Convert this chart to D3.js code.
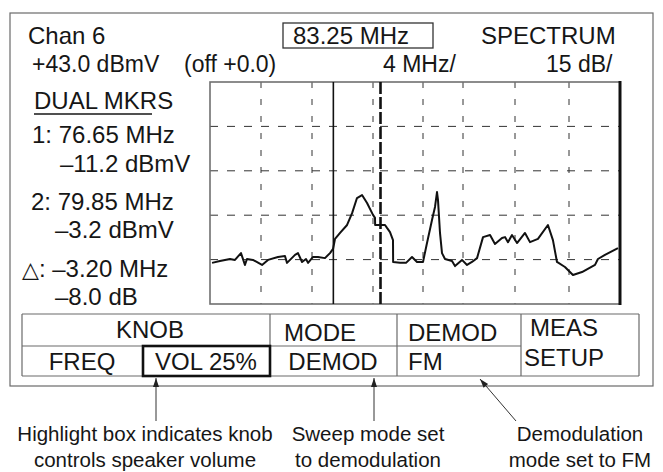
<!DOCTYPE html>
<html><head><meta charset="utf-8">
<script src="https://cdn.jsdelivr.net/npm/d3@7"></script>
<style>html,body{margin:0;padding:0;background:#fff}</style>
</head><body>
<svg id="c" width="663" height="472"></svg>
<script>
// Spectrum analyser screen: channel 6, 4 MHz/div, 15 dB/div, +43.0 dBmV reference
const freqDivisions = [67.25, 71.25, 75.25, 79.25, 83.25, 87.25, 91.25, 95.25, 99.25];
const levelDivisions = [43, 28, 13, -2, -17, -32];

// Swept trace (MHz, dBmV)
const traceFreq = [67.41, 68.03, 68.82, 69.21, 69.68, 69.99, 70.15, 70.62, 71.33, 71.80,
  72.58, 73.13, 73.29, 73.92, 74.15, 74.47, 74.78, 74.94, 75.32, 75.64,
  76.10, 76.43, 76.63, 76.76, 77.09, 77.55, 77.88, 78.20, 78.53, 78.86,
  79.25, 79.41, 79.42, 80.21, 80.37, 80.61, 80.85, 80.86, 81.41, 81.89,
  82.37, 82.77, 83.25, 83.65, 84.15, 84.45, 84.65, 84.75, 84.95, 85.15,
  85.45, 86.15, 86.45, 87.15, 87.56, 87.94, 88.33, 88.79, 89.33, 89.71,
  90.25, 90.48, 90.71, 91.02, 91.40, 91.99, 92.36, 92.95, 93.69, 94.06,
  94.36, 94.95, 95.56, 96.27, 97.29, 97.52, 98.07, 99.09];
const traceLevel = [-18.1, -17.5, -16.8, -17.1, -14.8, -18.8, -16.8, -17.1, -18.8, -17.1,
  -16.1, -15.8, -18.1, -15.4, -14.8, -17.8, -16.8, -18.1, -16.1, -16.1,
  -16.5, -14.8, -13.4, -10.0, -8.0, -5.3, -1.3, 3.8, 4.8, 2.1,
  -1.9, -2.9, -5.3, -5.3, -6.3, -7.7, -10.4, -17.8, -18.1, -18.1,
  -16.1, -17.8, -17.8, -11.4, -3.6, 0.8, 5.8, 3.1, -8.0, -14.8,
  -16.8, -17.5, -19.2, -17.1, -18.8, -17.8, -16.5, -9.4, -8.7, -11.7,
  -9.7, -9.4, -11.1, -8.7, -11.4, -8.0, -11.1, -10.0, -5.3, -10.4,
  -17.8, -19.5, -22.2, -21.2, -18.8, -16.8, -15.4, -13.1];

// Dual markers
const markerFreq = [76.65, 79.85];
const markerLevel = [-11.2, -3.2];

// Soft-key panel labels
const knobLabels = ["FREQ", "VOL 25%"];
const callouts = [
  ["Highlight box indicates knob", "controls speaker volume"],
  ["Sweep mode set", "to demodulation"],
  ["Demodulation", "mode set to FM"]
];

const svg = d3.select("#c");
const FONT = "'Liberation Sans', Arial, Helvetica, sans-serif";
const INK = "#161616";

// screen division lines are not perfectly even on this display
const divX = [210, 261, 312, 373, 423, 463, 515, 569, 620];
const x = d3.scaleLinear().domain(freqDivisions).range(divX);
const y = d3.scaleLinear().domain([levelDivisions[levelDivisions.length - 1], levelDivisions[0]]).range([304, 82]);

const dash = v => "–" + Math.abs(v).toFixed(1);
const fmt1 = d3.format(".1f"), fmt2 = d3.format(".2f");

// outer bezel
svg.append("rect").attr("x", 10).attr("y", 13).attr("width", 643).attr("height", 373)
  .attr("fill", "none").attr("stroke", "#6a6a6a").attr("stroke-width", 1.2);

function txt(s, tx, ty, opts = {}) {
  return svg.append("text").attr("x", tx).attr("y", ty)
    .attr("font-family", opts.family || FONT).attr("font-size", opts.size || 24)
    .attr("fill", INK).attr("text-anchor", opts.anchor || "start").text(s);
}

// header
txt("Chan 6", 28, 44);
svg.append("rect").attr("x", 283).attr("y", 23).attr("width", 150).attr("height", 25)
  .attr("fill", "none").attr("stroke", "#333").attr("stroke-width", 1.3);
txt("83.25 MHz", 351, 44, {anchor: "middle"});
txt("SPECTRUM", 481, 44);
txt("+" + fmt1(levelDivisions[0]) + " dBmV", 32, 72, {size: 23});
txt("(off +0.0)", 184, 72, {size: 23});
txt("4 MHz/", 383, 72, {size: 23});
txt("15 dB/", 546, 72, {size: 23});

// marker readout
txt("DUAL MKRS", 34, 109);
svg.append("line").attr("x1", 34).attr("x2", 152).attr("y1", 114).attr("y2", 114)
  .attr("stroke", INK).attr("stroke-width", 1.6);
txt("1: " + fmt2(markerFreq[0]) + " MHz", 32, 143);
txt(dash(markerLevel[0]) + " dBmV", 60, 172);
txt("2: " + fmt2(markerFreq[1]) + " MHz", 31, 210);
txt(dash(markerLevel[1]) + " dBmV", 55, 238);
const dT = txt("", 22, 277);
dT.append("tspan").attr("font-family", "'DejaVu Sans', sans-serif").attr("font-size", 22).text("△");
dT.append("tspan").text(": " + "–" + fmt2(Math.abs(markerFreq[0] - markerFreq[1])) + " MHz");
txt(dash(markerLevel[0] - markerLevel[1]) + " dB", 55, 305);

// graticule
const g = svg.append("g");
g.selectAll("line.v").data(freqDivisions.slice(1, -1)).join("line")
  .attr("x1", d => x(d)).attr("x2", d => x(d)).attr("y1", y.range()[1]).attr("y2", y.range()[0])
  .attr("stroke", "#333").attr("stroke-width", 1).attr("stroke-dasharray", "6,11");
g.selectAll("line.h").data(levelDivisions.slice(1, -1)).join("line")
  .attr("x1", divX[0]).attr("x2", divX[divX.length - 1]).attr("y1", d => y(d)).attr("y2", d => y(d))
  .attr("stroke", "#333").attr("stroke-width", 1).attr("stroke-dasharray", "8,9");
svg.append("rect").attr("x", divX[0]).attr("y", 82).attr("width", divX[divX.length - 1] - divX[0]).attr("height", 222)
  .attr("fill", "none").attr("stroke", "#707070").attr("stroke-width", 1.6);
svg.append("line").attr("x1", divX[divX.length - 1]).attr("x2", divX[divX.length - 1]).attr("y1", 81).attr("y2", 305)
  .attr("stroke", "#111").attr("stroke-width", 3);

// markers
svg.append("line").attr("x1", x(markerFreq[0])).attr("x2", x(markerFreq[0])).attr("y1", 82).attr("y2", 304)
  .attr("stroke", "#111").attr("stroke-width", 1.6);
svg.append("line").attr("x1", x(markerFreq[1])).attr("x2", x(markerFreq[1])).attr("y1", 82).attr("y2", 304)
  .attr("stroke", "#111").attr("stroke-width", 2.6).attr("stroke-dasharray", "12,3");

// trace
const line = d3.line().x(d => x(d[0])).y(d => y(d[1]));
svg.append("path").attr("d", line(d3.zip(traceFreq, traceLevel)))
  .attr("fill", "none").attr("stroke", "#111").attr("stroke-width", 2).attr("stroke-linejoin", "round");

// soft-key panel
const P = {l: 22, r: 639, t: 314, m: 346, b: 376, c1: 270, c2: 397, c3: 521};
const pl = (x1, y1, x2, y2) => svg.append("line").attr("x1", x1).attr("y1", y1).attr("x2", x2).attr("y2", y2)
  .attr("stroke", "#6a6a6a").attr("stroke-width", 1.2);
pl(P.l, P.t, P.r, P.t); pl(P.l, P.b, P.r, P.b); pl(P.l, P.t, P.l, P.b); pl(P.r, P.t, P.r, P.b);
pl(P.l, P.m, P.c3, P.m); pl(P.c1, P.t, P.c1, P.b); pl(P.c2, P.t, P.c2, P.b); pl(P.c3, P.t, P.c3, P.b);
svg.append("rect").attr("x", 143).attr("y", P.m).attr("width", P.c1 - 143).attr("height", P.b - P.m)
  .attr("fill", "none").attr("stroke", "#111").attr("stroke-width", 2.6);
txt("KNOB", 150, 338, {anchor: "middle"});
txt("MODE", 320, 341, {anchor: "middle"});
txt("DEMOD", 408, 341);
txt("MEAS", 564, 336, {anchor: "middle"});
txt(knobLabels[0], 82, 370, {anchor: "middle"});
txt(knobLabels[1], 206, 370, {anchor: "middle"});
txt("DEMOD", 333, 370, {anchor: "middle"});
txt("FM", 408, 370);
txt("SETUP", 564, 366, {anchor: "middle"});

// callout arrows
const arrows = [[156, 421, 156, 378], [374, 421, 374, 378], [516, 421, 480, 379]];
arrows.forEach(([x1, y1, x2, y2]) => {
  svg.append("line").attr("x1", x1).attr("y1", y1).attr("x2", x2).attr("y2", y2)
    .attr("stroke", "#333").attr("stroke-width", 1);
  const a = Math.atan2(y2 - y1, x2 - x1), L = 9, W = 3;
  const bx = x2 - L * Math.cos(a), by = y2 - L * Math.sin(a);
  const px = -Math.sin(a) * W, py = Math.cos(a) * W;
  svg.append("path").attr("d", `M${x2},${y2}L${bx + px},${by + py}L${bx - px},${by - py}Z`).attr("fill", "#222");
});

// callout text
const cx = [145, 368, 580];
callouts.forEach((lines, i) => lines.forEach((s, j) =>
  txt(s, cx[i], 441 + j * 26, {anchor: "middle", size: 20.5})));
</script>
</body></html>
